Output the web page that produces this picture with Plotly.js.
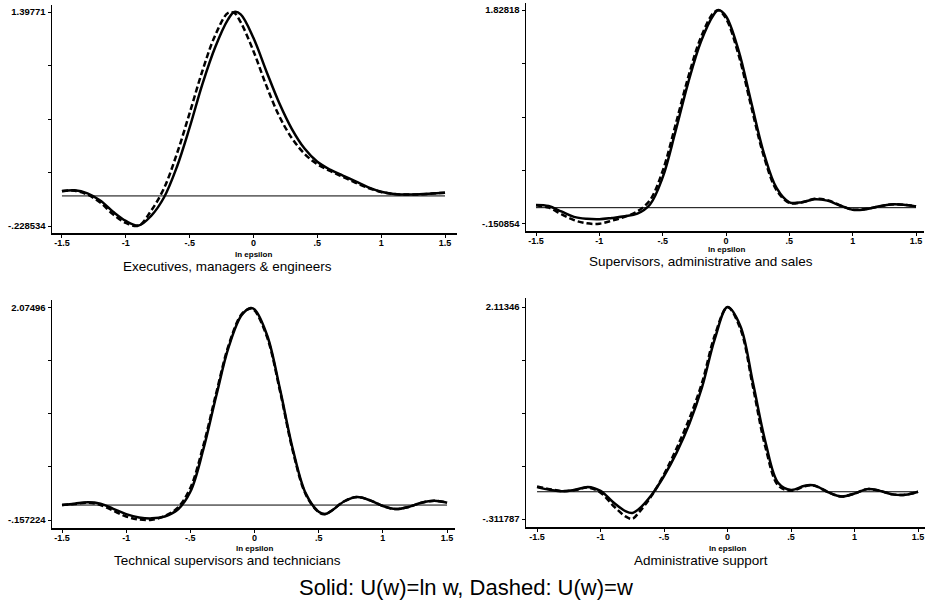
<!DOCTYPE html>
<html>
<head>
<meta charset="utf-8">
<script src="https://cdn.plot.ly/plotly-3.0.1.min.js"></script>
<style>
html,body{margin:0;padding:0;background:#fff;}
#chart{width:926px;height:602px;}
</style>
</head>
<body>
<div id="chart"></div>
<script>
// ---------------- data ----------------
var panelTitles = [
  "Executives, managers & engineers",
  "Supervisors, administrative and sales",
  "Technical supervisors and technicians",
  "Administrative support"
];
var xTitle = "ln epsilon";
var legendText = "Solid: U(w)=ln w, Dashed: U(w)=w";

var xTickVals = [-1.5, -1, -0.5, 0, 0.5, 1, 1.5];
var xTickText = ["-1.5", "-1", "-.5", "0", ".5", "1", "1.5"];

var yMinVals = [-0.228534, -0.150854, -0.157224, -0.311787];
var yMaxVals = [1.39771, 1.82818, 2.07496, 2.11346];
var yMinLabels = ["-.228534", "-.150854", "-.157224", "-.311787"];
var yMaxLabels = ["1.39771", "1.82818", "2.07496", "2.11346"];

// Panel 1: Executives, managers & engineers
var x1 = [-1.5,-1.4,-1.3,-1.2,-1.1,-1.0,-0.9,-0.8,-0.7,-0.6,-0.5,-0.4,-0.3,-0.2,-0.15,-0.1,0,0.1,0.2,0.3,0.4,0.5,0.6,0.7,0.8,0.9,1.0,1.1,1.2,1.3,1.4,1.5];
var solid1 = [0.035,0.043,0.02,-0.035,-0.12,-0.19,-0.225,-0.15,-0.01,0.22,0.52,0.85,1.13,1.34,1.3977,1.38,1.20,0.95,0.71,0.51,0.36,0.26,0.20,0.155,0.11,0.065,0.032,0.015,0.01,0.012,0.018,0.025];
var dashed1 = [0.038,0.04,0.01,-0.05,-0.14,-0.205,-0.226,-0.11,0.06,0.32,0.63,0.95,1.22,1.39,1.39,1.32,1.10,0.84,0.61,0.44,0.32,0.24,0.19,0.145,0.10,0.06,0.03,0.015,0.01,0.012,0.018,0.025];

// Panel 2: Supervisors, administrative and sales
var x2 = [-1.5,-1.4,-1.3,-1.2,-1.1,-1.0,-0.9,-0.8,-0.7,-0.6,-0.5,-0.4,-0.3,-0.2,-0.1,-0.06,0,0.1,0.2,0.3,0.4,0.5,0.6,0.7,0.8,0.9,1.0,1.1,1.2,1.3,1.4,1.5];
var solid2 = [0.025,0.015,-0.035,-0.085,-0.103,-0.107,-0.095,-0.08,-0.055,0.03,0.28,0.70,1.15,1.53,1.78,1.828,1.77,1.45,0.97,0.50,0.18,0.05,0.05,0.078,0.065,0.02,-0.02,-0.015,0.01,0.03,0.028,0.012];
var dashed2 = [0.022,0.0,-0.06,-0.115,-0.145,-0.148,-0.12,-0.085,-0.035,0.07,0.34,0.76,1.20,1.57,1.80,1.825,1.75,1.41,0.93,0.47,0.16,0.045,0.05,0.082,0.07,0.022,-0.018,-0.013,0.01,0.03,0.028,0.012];

// Panel 3: Technical supervisors and technicians
var x3 = [-1.5,-1.4,-1.3,-1.2,-1.1,-1.0,-0.9,-0.8,-0.7,-0.6,-0.5,-0.4,-0.3,-0.2,-0.1,-0.03,0,0.1,0.2,0.3,0.4,0.5,0.55,0.6,0.7,0.8,0.9,1.0,1.1,1.2,1.3,1.4,1.5];
var solid3 = [0.0,0.015,0.03,0.015,-0.04,-0.095,-0.13,-0.14,-0.12,-0.05,0.14,0.58,1.14,1.67,2.0,2.075,2.06,1.78,1.21,0.58,0.12,-0.07,-0.095,-0.06,0.04,0.085,0.05,-0.01,-0.042,-0.02,0.025,0.045,0.025];
var dashed3 = [0.0,0.012,0.025,0.0,-0.06,-0.12,-0.152,-0.155,-0.115,-0.03,0.18,0.62,1.17,1.69,2.01,2.07,2.05,1.76,1.19,0.56,0.11,-0.075,-0.095,-0.06,0.04,0.085,0.05,-0.01,-0.042,-0.02,0.025,0.045,0.025];

// Panel 4: Administrative support
var x4 = [-1.5,-1.4,-1.3,-1.2,-1.1,-1.0,-0.9,-0.8,-0.75,-0.7,-0.6,-0.5,-0.4,-0.3,-0.2,-0.1,0,0.1,0.2,0.3,0.4,0.5,0.6,0.65,0.7,0.8,0.9,1.0,1.1,1.2,1.3,1.4,1.5];
var solid4 = [0.053,0.022,0.005,0.022,0.055,0.01,-0.12,-0.225,-0.243,-0.2,-0.04,0.18,0.45,0.78,1.20,1.75,2.113,1.90,1.25,0.56,0.10,0.02,0.065,0.078,0.065,-0.01,-0.055,-0.02,0.03,0.01,-0.03,-0.035,0.0];
var dashed4 = [0.06,0.03,0.008,0.02,0.048,-0.01,-0.16,-0.285,-0.31,-0.24,-0.05,0.20,0.50,0.84,1.25,1.79,2.11,1.87,1.20,0.50,0.07,0.01,0.06,0.075,0.062,-0.01,-0.055,-0.02,0.03,0.01,-0.03,-0.035,0.0];

// ---------------- layout geometry (px in a 926x602 canvas) ----------------
var W = 926, H = 602;
var panels = [
  {xs:x1, s:solid1, d:dashed1, px:[52,457], py:[5,233],   xr:[-1.578,1.594], yr:[-0.2817,1.4509], lnY:254, tY:266, tX:227},
  {xs:x2, s:solid2, d:dashed2, px:[526,924], py:[3,231],  xr:[-1.579,1.563], yr:[-0.2157,1.893],  lnY:250, tY:261, tX:701},
  {xs:x3, s:solid3, d:dashed3, px:[52,455], py:[300,528], xr:[-1.578,1.562], yr:[-0.2415,2.159],  lnY:548, tY:560, tX:227},
  {xs:x4, s:solid4, d:dashed4, px:[526,925], py:[298,527],xr:[-1.587,1.555], yr:[-0.4033,2.2164], lnY:548, tY:560, tX:701}
];

var FONT = "Liberation Sans, Arial, sans-serif";
var traces = [];
var layout = {
  width: W, height: H,
  margin: {l:0, r:0, t:0, b:0},
  paper_bgcolor: "#fff", plot_bgcolor: "#fff",
  showlegend: false,
  font: {family: FONT, color: "#000"},
  annotations: []
};

panels.forEach(function(p, i){
  var n = i + 1;
  var xa = n === 1 ? "x" : "x" + n;
  var ya = n === 1 ? "y" : "y" + n;
  var xk = n === 1 ? "xaxis" : "xaxis" + n;
  var yk = n === 1 ? "yaxis" : "yaxis" + n;

  // zero reference line
  traces.push({
    x: [p.xs[0], p.xs[p.xs.length-1]], y: [0, 0],
    xaxis: xa, yaxis: ya, mode: "lines", hoverinfo: "skip",
    line: {color: "#000", width: 1}
  });
  traces.push({
    x: p.xs, y: p.s, xaxis: xa, yaxis: ya, mode: "lines", name: "U(w)=ln w",
    line: {color: "#000", width: 2.5, shape: "spline", smoothing: 1}
  });
  traces.push({
    x: p.xs, y: p.d, xaxis: xa, yaxis: ya, mode: "lines", name: "U(w)=w",
    line: {color: "#000", width: 2.5, dash: "6px,3px", shape: "spline", smoothing: 1}
  });

  var lo = yMinVals[i], hi = yMaxVals[i];
  var yt = [0,1,2,3,4].map(function(k){ return lo + (hi - lo) * k / 4; });
  var ytt = [yMinLabels[i], "", "", "", yMaxLabels[i]];

  layout[xk] = {
    domain: [p.px[0]/W, p.px[1]/W], range: p.xr, anchor: ya,
    showline: true, linecolor: "#000", linewidth: 1.5,
    showgrid: false, zeroline: false,
    ticks: "outside", ticklen: 3, tickwidth: 1, tickcolor: "#000",
    ticklabelstandoff: -2,
    tickmode: "array", tickvals: xTickVals, ticktext: xTickText,
    tickfont: {family: FONT, size: 9, color: "#000", weight: "bold"},
    fixedrange: true
  };
  layout[yk] = {
    domain: [1 - p.py[1]/H, 1 - p.py[0]/H], range: p.yr, anchor: xa,
    showline: true, linecolor: "#000", linewidth: 1.5,
    showgrid: false, zeroline: false,
    ticks: "outside", ticklen: 3, tickwidth: 1, tickcolor: "#000",
    tickmode: "array", tickvals: yt, ticktext: ytt,
    tickfont: {family: FONT, size: 9.5, color: "#000", weight: "bold"},
    fixedrange: true
  };

  layout.annotations.push({
    xref: xa, yref: "paper", x: 0, y: 1 - p.lnY/H, xanchor: "center", yanchor: "middle",
    text: xTitle, showarrow: false,
    font: {family: FONT, size: 8, color: "#000", weight: "bold"}
  });
  layout.annotations.push({
    xref: "paper", yref: "paper", x: p.tX/W, y: 1 - p.tY/H, xanchor: "center", yanchor: "middle",
    text: panelTitles[i], showarrow: false,
    font: {family: FONT, size: 13.5, color: "#000"}
  });
});

layout.annotations.push({
  xref: "paper", yref: "paper", x: 466/W, y: 1 - 587/H, xanchor: "center", yanchor: "middle",
  text: legendText, showarrow: false,
  font: {family: FONT, size: 22, color: "#000"}
});

Plotly.newPlot("chart", traces, layout, {displayModeBar: false, staticPlot: true});
</script>
</body>
</html>
